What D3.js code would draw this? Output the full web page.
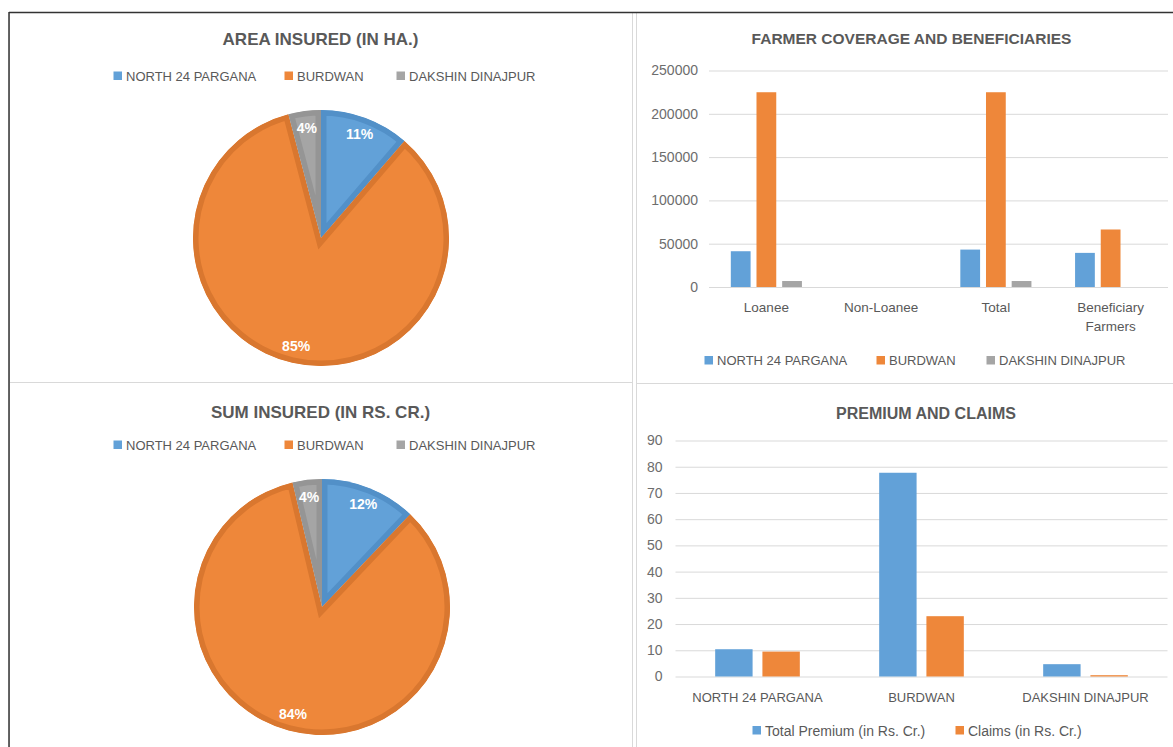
<!DOCTYPE html>
<html>
<head>
<meta charset="utf-8">
<script src="https://cdn.jsdelivr.net/npm/d3@7"></script>
<style>
  html, body { margin: 0; padding: 0; background: #ffffff; }
  svg { display: block; }
  text { font-family: "Liberation Sans", Arial, sans-serif; }
</style>
</head>
<body>
<svg id="chart" width="1173" height="747"></svg>
<script>
// ---------- DATA ----------
const districts = ["NORTH 24 PARGANA", "BURDWAN", "DAKSHIN DINAJPUR"];
const areaInsuredShare = [11.3, 84.6, 4.1];
const sumInsuredShare = [12.1, 84.2, 3.7];

const coverageCategories = ["Loanee", "Non-Loanee", "Total", "Beneficiary Farmers"];
const north24Coverage = [41300, 0, 43200, 39400];
const burdwanCoverage = [224900, 0, 224900, 66400];
const dakshinCoverage = [6900, 0, 6900, 0];
const coverageTicks = [0, 50000, 100000, 150000, 200000, 250000];

const premiumCategories = ["NORTH 24 PARGANA", "BURDWAN", "DAKSHIN DINAJPUR"];
const premiumSeries = ["Total Premium (in Rs. Cr.)", "Claims (in Rs. Cr.)"];
const totalPremium = [10.4, 77.7, 4.7];
const claimsPaid = [9.5, 23.0, 0.5];
const premiumTicks = [0, 10, 20, 30, 40, 50, 60, 70, 80, 90];

// ---------- STYLE ----------
const fills = ["#62a1d8", "#ee873a", "#a5a5a5"];
const borders = ["#5290c8", "#d9772f", "#959595"];
const textGrey = "#595959";
const tickGrey = "#6d6d6d";
const gridGrey = "#d9d9d9";

const svg = d3.select("#chart");

// panels
const panels = [
  {x: 9.5, y: 12.5, w: 623, h: 370},
  {x: 636.5, y: 12.5, w: 540, h: 371},
  {x: 9.5, y: 382.5, w: 623, h: 370},
  {x: 636.5, y: 383.5, w: 540, h: 370}
];
svg.selectAll("rect.panel").data(panels).join("rect")
  .attr("class", "panel")
  .attr("x", d => d.x).attr("y", d => d.y)
  .attr("width", d => d.w).attr("height", d => d.h)
  .attr("fill", "#fff").attr("stroke", gridGrey).attr("stroke-width", 1);

// outer dark frame (top & left)
svg.append("line").attr("x1", 9).attr("x2", 1173).attr("y1", 12.5).attr("y2", 12.5)
  .attr("stroke", "#333").attr("stroke-width", 1.5);
svg.append("line").attr("x1", 9).attr("x2", 9).attr("y1", 12).attr("y2", 747)
  .attr("stroke", "#333").attr("stroke-width", 1.5);

function title(x, y, txt, size) {
  svg.append("text").attr("x", x).attr("y", y).attr("text-anchor", "middle")
    .attr("font-size", size).attr("font-weight", "bold").attr("fill", textGrey).text(txt);
}

function legend(items, xs, y, size) {
  items.forEach((it, i) => {
    svg.append("rect").attr("x", xs[i]).attr("y", y - 4.5).attr("width", 8.5).attr("height", 8.5)
      .attr("fill", it.color);
    svg.append("text").attr("x", xs[i] + 12.5).attr("y", y).attr("dominant-baseline", "central")
      .attr("font-size", size).attr("fill", textGrey).text(it.label);
  });
}

// ---------- PIES ----------
let clipId = 0;
function pie(cx, cy, values, ttl, ttlX, ttlY, legY) {
  title(ttlX, ttlY, ttl, 17);
  legend(districts.map((d, i) => ({label: d, color: fills[i]})), [113.5, 284.5, 396.5], legY, 13);

  const R = 128;
  const total = d3.sum(values);
  const arcs = d3.pie().sort(null).value(d => d)(values);
  const arc = d3.arc().innerRadius(0).outerRadius(R);
  const labelArc = d3.arc().innerRadius(111).outerRadius(111);
  const g = svg.append("g").attr("transform", `translate(${cx},${cy})`);
  arcs.forEach((a, i) => {
    const id = "clip" + (clipId++);
    g.append("clipPath").attr("id", id).append("path").attr("d", arc(a));
    g.append("path").attr("d", arc(a)).attr("fill", fills[i])
      .attr("stroke", borders[i]).attr("stroke-width", 11)
      .attr("stroke-linejoin", "miter")
      .attr("clip-path", `url(#${id})`);
  });
  arcs.forEach((a, i) => {
    const [lx, ly] = labelArc.centroid(a);
    g.append("text").attr("x", lx).attr("y", ly)
      .attr("text-anchor", "middle").attr("dominant-baseline", "central")
      .attr("font-size", 14).attr("font-weight", "bold").attr("fill", "#fff")
      .text(Math.round(values[i] / total * 100) + "%");
  });
}

pie(321, 238, areaInsuredShare, "AREA INSURED (IN HA.)", 320.5, 45, 76);
pie(322, 607, sumInsuredShare, "SUM INSURED (IN RS. CR.)", 320.5, 418, 445);

// ---------- FARMER COVERAGE ----------
(function () {
  title(911.5, 44, "FARMER COVERAGE AND BENEFICIARIES", 15.5);
  const seriesVals = [north24Coverage, burdwanCoverage, dakshinCoverage];
  const x0 = d3.scaleBand().domain(coverageCategories).range([709, 1168]);
  const x1 = d3.scaleBand().domain(districts).range([0, x0.bandwidth()])
    .paddingInner(0.23).paddingOuter(0.85);
  const y = d3.scaleLinear().domain([0, 250000]).range([287, 70.5]);

  const yAxis = d3.axisLeft(y).tickValues(coverageTicks).tickFormat(d3.format("d"))
    .tickSize(-(1168 - 709)).tickPadding(11);
  const ga = svg.append("g").attr("transform", "translate(709,0)").call(yAxis);
  ga.select(".domain").remove();
  ga.selectAll(".tick line").attr("stroke", gridGrey);
  ga.selectAll(".tick text").attr("fill", tickGrey).attr("font-size", 14)
    .attr("font-family", "'Liberation Sans', Arial, sans-serif");

  coverageCategories.forEach((c, ci) => {
    districts.forEach((d, si) => {
      const v = seriesVals[si][ci];
      if (v <= 0) return;
      svg.append("rect").attr("x", x0(c) + x1(d)).attr("width", x1.bandwidth())
        .attr("y", y(v)).attr("height", y(0) - y(v)).attr("fill", fills[si]);
    });
    const words = c === "Beneficiary Farmers" ? ["Beneficiary", "Farmers"] : [c];
    words.forEach((w, wi) => {
      svg.append("text").attr("x", x0(c) + x0.bandwidth() / 2).attr("y", 311.5 + wi * 19)
        .attr("text-anchor", "middle").attr("font-size", 13.5).attr("fill", textGrey).text(w);
    });
  });

  legend(districts.map((d, i) => ({label: d, color: fills[i]})), [704.5, 876.5, 986.5], 360.5, 13);
})();

// ---------- PREMIUM AND CLAIMS ----------
(function () {
  title(926, 419, "PREMIUM AND CLAIMS", 16);
  const seriesVals = [totalPremium, claimsPaid];
  const x0 = d3.scaleBand().domain(premiumCategories).range([675.5, 1167.5]);
  const x1 = d3.scaleBand().domain(premiumSeries).range([0, x0.bandwidth()])
    .paddingInner(0.208).paddingOuter(0.84);
  const y = d3.scaleLinear().domain([0, 90]).range([676.5, 440.5]);

  const yAxis = d3.axisLeft(y).tickValues(premiumTicks).tickFormat(d3.format("d"))
    .tickSize(-(1167.5 - 675.5)).tickPadding(13);
  const ga = svg.append("g").attr("transform", "translate(675.5,0)").call(yAxis);
  ga.select(".domain").remove();
  ga.selectAll(".tick line").attr("stroke", gridGrey);
  ga.selectAll(".tick text").attr("fill", tickGrey).attr("font-size", 14)
    .attr("font-family", "'Liberation Sans', Arial, sans-serif");

  premiumCategories.forEach((c, ci) => {
    premiumSeries.forEach((s, si) => {
      const v = seriesVals[si][ci];
      svg.append("rect").attr("x", x0(c) + x1(s)).attr("width", x1.bandwidth())
        .attr("y", y(v)).attr("height", y(0) - y(v)).attr("fill", fills[si]);
    });
    svg.append("text").attr("x", x0(c) + x0.bandwidth() / 2).attr("y", 702)
      .attr("text-anchor", "middle").attr("font-size", 13).attr("fill", textGrey).text(c);
  });

  legend(premiumSeries.map((d, i) => ({label: d, color: fills[i]})), [752.5, 955.5], 730.5, 14);
})();
</script>
</body>
</html>
